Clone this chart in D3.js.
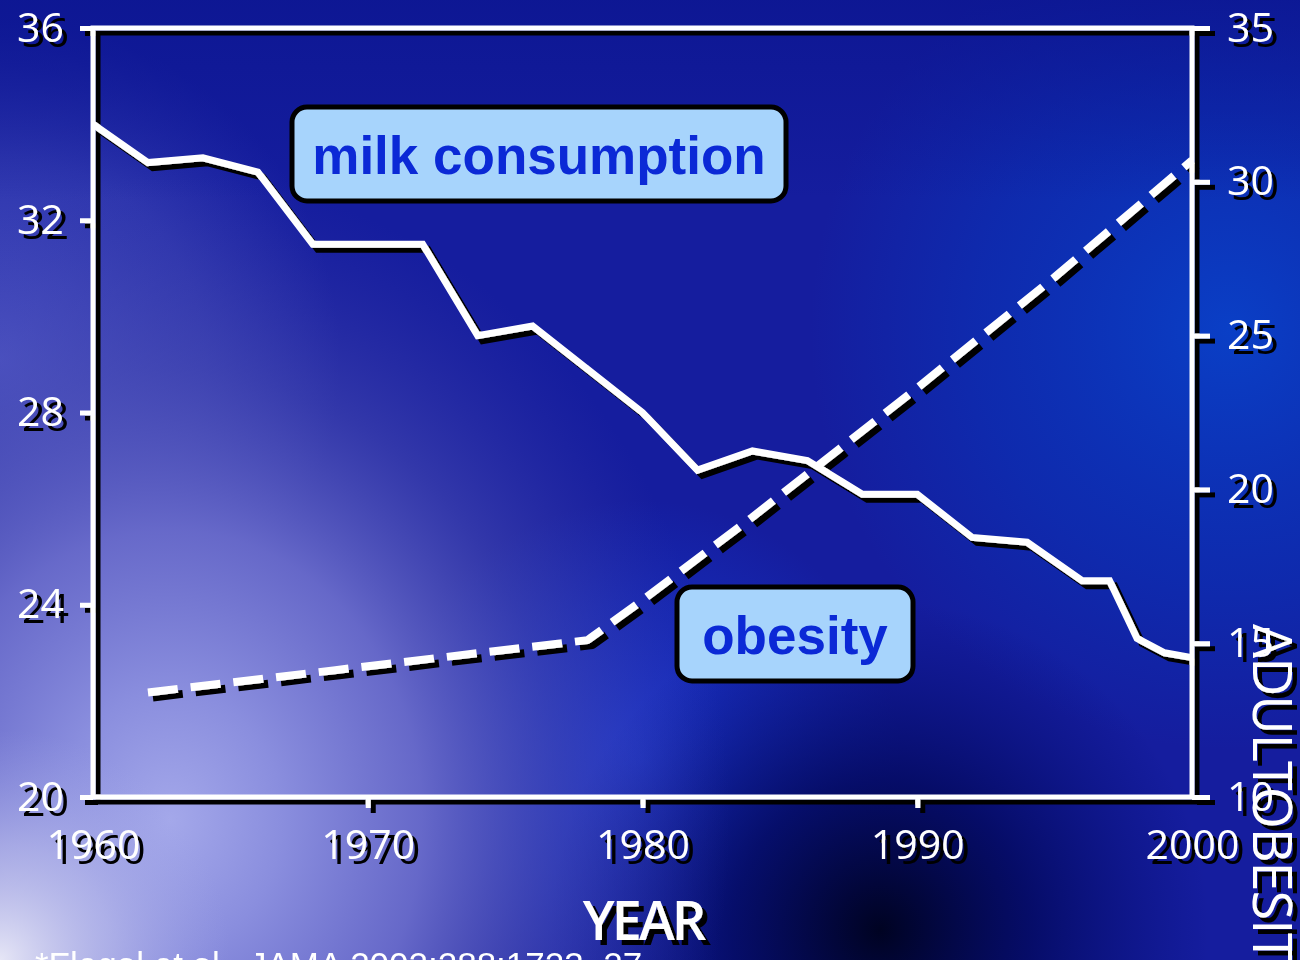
<!DOCTYPE html>
<html>
<head>
<meta charset="utf-8">
<script src="https://cdn.jsdelivr.net/npm/d3@7"></script>
<style>
  html, body { margin: 0; padding: 0; background: #10189a; }
  svg { display: block; }
</style>
</head>
<body>
<svg id="chart" width="1300" height="960"></svg>
<script>
// Per-capita milk consumption (left axis) by year
const milkYears = [1960, 1962, 1964, 1966, 1968, 1970, 1972, 1974, 1976, 1978, 1980, 1982,
                   1984, 1986, 1988, 1990, 1992, 1994, 1996, 1997, 1998, 1999, 2000];
const milkValues = [34.0, 33.2, 33.3, 33.0, 31.5, 31.5, 31.5, 29.6, 29.8, 28.9, 28.0, 26.8,
                    27.2, 27.0, 26.3, 26.3, 25.4, 25.3, 24.5, 24.5, 23.3, 23.0, 22.9];

// Adult obesity prevalence, % (right axis)
const obesityYears = [1962, 1978, 1980, 1984, 1990, 1995, 2000];
const obesityValues = [13.4, 15.1, 16.4, 19.1, 23.3, 26.9, 30.7];

// Axis ticks
const yearTicks = [1960, 1970, 1980, 1990, 2000];
const milkTicks = [20, 24, 28, 32, 36];
const obesityTicks = [10, 15, 20, 25, 30, 35];

// Text
const xTitle = "YEAR";
const rightTitle = "ADULT OBESITY";
const milkLabel = "milk consumption";
const obesityLabel = "obesity";
const sourceNote = "*Flegal et al., JAMA 2002;288:1723\u201327";

const W = 1300, H = 960;
const plot = { left: 93, top: 28, right: 1192, bottom: 797 };

const svg = d3.select("#chart");
const defs = svg.append("defs");

// ---------- background ----------
function radial(id, cx, cy, r, stops, transform) {
  const g = defs.append("radialGradient").attr("id", id)
    .attr("gradientUnits", "userSpaceOnUse")
    .attr("cx", cx).attr("cy", cy).attr("r", r);
  if (transform) g.attr("gradientTransform", transform);
  stops.forEach(s => g.append("stop").attr("offset", s[0])
    .attr("stop-color", s[1]).attr("stop-opacity", s[2] == null ? 1 : s[2]));
  return `url(#${id})`;
}
function linear(id, x1, y1, x2, y2, stops) {
  const g = defs.append("linearGradient").attr("id", id)
    .attr("gradientUnits", "userSpaceOnUse")
    .attr("x1", x1).attr("y1", y1).attr("x2", x2).attr("y2", y2);
  stops.forEach(s => g.append("stop").attr("offset", s[0])
    .attr("stop-color", s[1]).attr("stop-opacity", s[2] == null ? 1 : s[2]));
  return `url(#${id})`;
}

const bg = svg.append("g").attr("class", "background");
bg.append("rect").attr("width", W).attr("height", H).attr("fill", "#151d9e");
bg.append("rect").attr("width", W).attr("height", H)
  .attr("fill", radial("bgRight", 1230, 330, 420, [[0, "#0a3fc6"], [0.6, "#0a33b8", 0.6], [1, "#0a33b8", 0]]));
bg.append("rect").attr("width", W).attr("height", H)
  .attr("fill", radial("bgMid", 640, 760, 260, [[0, "#1c36cc"], [0.6, "#1832c4", 0.5], [1, "#1832c4", 0]]));
bg.append("rect").attr("width", W).attr("height", H)
  .attr("fill", radial("bgDark", 880, 930, 330, [[0, "#000322"], [0.45, "#02085a", 0.8], [1, "#040c70", 0]]));
bg.append("rect").attr("width", W).attr("height", H)
  .attr("fill", radial("bgLeftEdge", 0, 360, 340, [[0, "#4a52c4"], [0.6, "#3e46b8", 0.6], [1, "#3a42b6", 0]]));
// lavender wash over the lower-left, stretched vertically
bg.append("rect").attr("width", W).attr("height", H)
  .attr("fill", radial("bgLavender", 170, 820, 560, [
    [0, "#a4a8ea"], [0.2, "#8a8ede"], [0.45, "#6a6ccb", 0.95], [0.7, "#5052b6", 0.5], [1, "#3a3aa8", 0]],
    "translate(170,820) scale(1,1.15) translate(-170,-820)"));
bg.append("rect").attr("width", W).attr("height", H)
  .attr("fill", radial("bgCorner", 0, 960, 230, [[0, "#e6e6f6"], [0.5, "#c2c4ee", 0.6], [1, "#a0a4e6", 0]]));
bg.append("rect").attr("width", W).attr("height", 200)
  .attr("fill", linear("bgTop", 0, 0, 0, 200, [[0, "#0b1590", 0.75], [1, "#0b1590", 0]]));

// ---------- scales ----------
const x = d3.scaleLinear().domain([1960, 2000]).range([plot.left, plot.right]);
const yMilk = d3.scaleLinear().domain([20, 36]).range([plot.bottom, plot.top]);
const yObesity = d3.scaleLinear().domain([10, 35]).range([plot.bottom, plot.top]);

// hard black drop shadow used by all white foreground marks
const shadow = defs.append("filter").attr("id", "shadow")
  .attr("filterUnits", "userSpaceOnUse")
  .attr("x", 0).attr("y", 0).attr("width", W).attr("height", H);
shadow.append("feDropShadow").attr("dx", 5).attr("dy", 5)
  .attr("stdDeviation", 0).attr("flood-color", "#000").attr("flood-opacity", 1);

const fg = svg.append("g").attr("filter", "url(#shadow)");

// frame
fg.append("rect")
  .attr("x", plot.left).attr("y", plot.top)
  .attr("width", plot.right - plot.left).attr("height", plot.bottom - plot.top)
  .attr("fill", "none").attr("stroke", "#fff").attr("stroke-width", 5);

const tickFont = "'Open Sans', 'DejaVu Sans', sans-serif";

function styleAxis(g) {
  g.select(".domain").remove();
  g.selectAll(".tick line").attr("stroke", "#fff").attr("stroke-width", 5);
  g.selectAll(".tick text").attr("fill", "#fff")
    .style("font-family", tickFont).style("font-size", "41px").style("font-weight", 500);
}

fg.append("g")
  .attr("transform", `translate(${plot.left},0)`)
  .call(d3.axisLeft(yMilk).tickValues(milkTicks).tickFormat(d3.format("d"))
    .tickSize(13).tickPadding(16))
  .call(styleAxis);

fg.append("g")
  .attr("transform", `translate(${plot.right},0)`)
  .call(d3.axisRight(yObesity).tickValues(obesityTicks).tickFormat(d3.format("d"))
    .tickSize(18).tickPadding(17))
  .call(styleAxis);

fg.append("g")
  .attr("transform", `translate(0,${plot.bottom})`)
  .call(d3.axisBottom(x).tickValues(yearTicks).tickFormat(d3.format("d"))
    .tickSize(11).tickPadding(22))
  .call(styleAxis)
  .call(g => g.selectAll(".tick").filter(d => d === 1960 || d === 2000).select("line").remove());

// milk consumption line
const milkLine = d3.line().x((d, i) => x(milkYears[i])).y(d => yMilk(d)).curve(d3.curveLinear);
fg.append("path")
  .datum(milkValues)
  .attr("d", milkLine)
  .attr("fill", "none").attr("stroke", "#fff")
  .attr("stroke-width", 7).attr("stroke-linejoin", "miter");

// obesity line (dashed)
const obesityLine = d3.line().x((d, i) => x(obesityYears[i])).y(d => yObesity(d)).curve(d3.curveLinear);
fg.append("path")
  .datum(obesityValues)
  .attr("d", obesityLine)
  .attr("fill", "none").attr("stroke", "#fff")
  .attr("stroke-width", 8).attr("stroke-dasharray", "30 13").attr("stroke-linejoin", "bevel");

// axis titles
fg.append("text")
  .attr("x", 643).attr("y", 940)
  .attr("text-anchor", "middle")
  .attr("fill", "#fff")
  .style("font-family", tickFont).style("font-size", "54px")
  .style("font-weight", 600).style("letter-spacing", "-3px")
  .text(xTitle);

fg.append("text")
  .attr("transform", "translate(1253,624) rotate(90)")
  .attr("fill", "#fff")
  .style("font-family", tickFont).style("font-size", "54px").style("font-weight", 500)
  .style("letter-spacing", "-1px").style("word-spacing", "-16px")
  .text(rightTitle);

// series labels
function labelBox(cx, cy, w, h, text) {
  const g = svg.append("g");
  g.append("rect")
    .attr("x", cx - w / 2).attr("y", cy - h / 2)
    .attr("width", w).attr("height", h).attr("rx", 15)
    .attr("fill", "#a7d4fc").attr("stroke", "#000").attr("stroke-width", 5);
  g.append("text")
    .attr("x", cx).attr("y", cy + 20)
    .attr("text-anchor", "middle")
    .attr("fill", "#0b29d6")
    .style("font-family", "'Liberation Sans', Arial, sans-serif")
    .style("font-weight", "bold").style("font-size", "53px")
    .text(text);
}
labelBox(539, 154, 494, 94, milkLabel);
labelBox(795, 634, 236, 94, obesityLabel);

// source note
svg.append("text")
  .attr("x", 35).attr("y", 977)
  .attr("fill", "#fff")
  .style("font-family", "'Liberation Sans', Arial, sans-serif")
  .style("font-size", "35px")
  .text(sourceNote);
</script>
</body>
</html>
